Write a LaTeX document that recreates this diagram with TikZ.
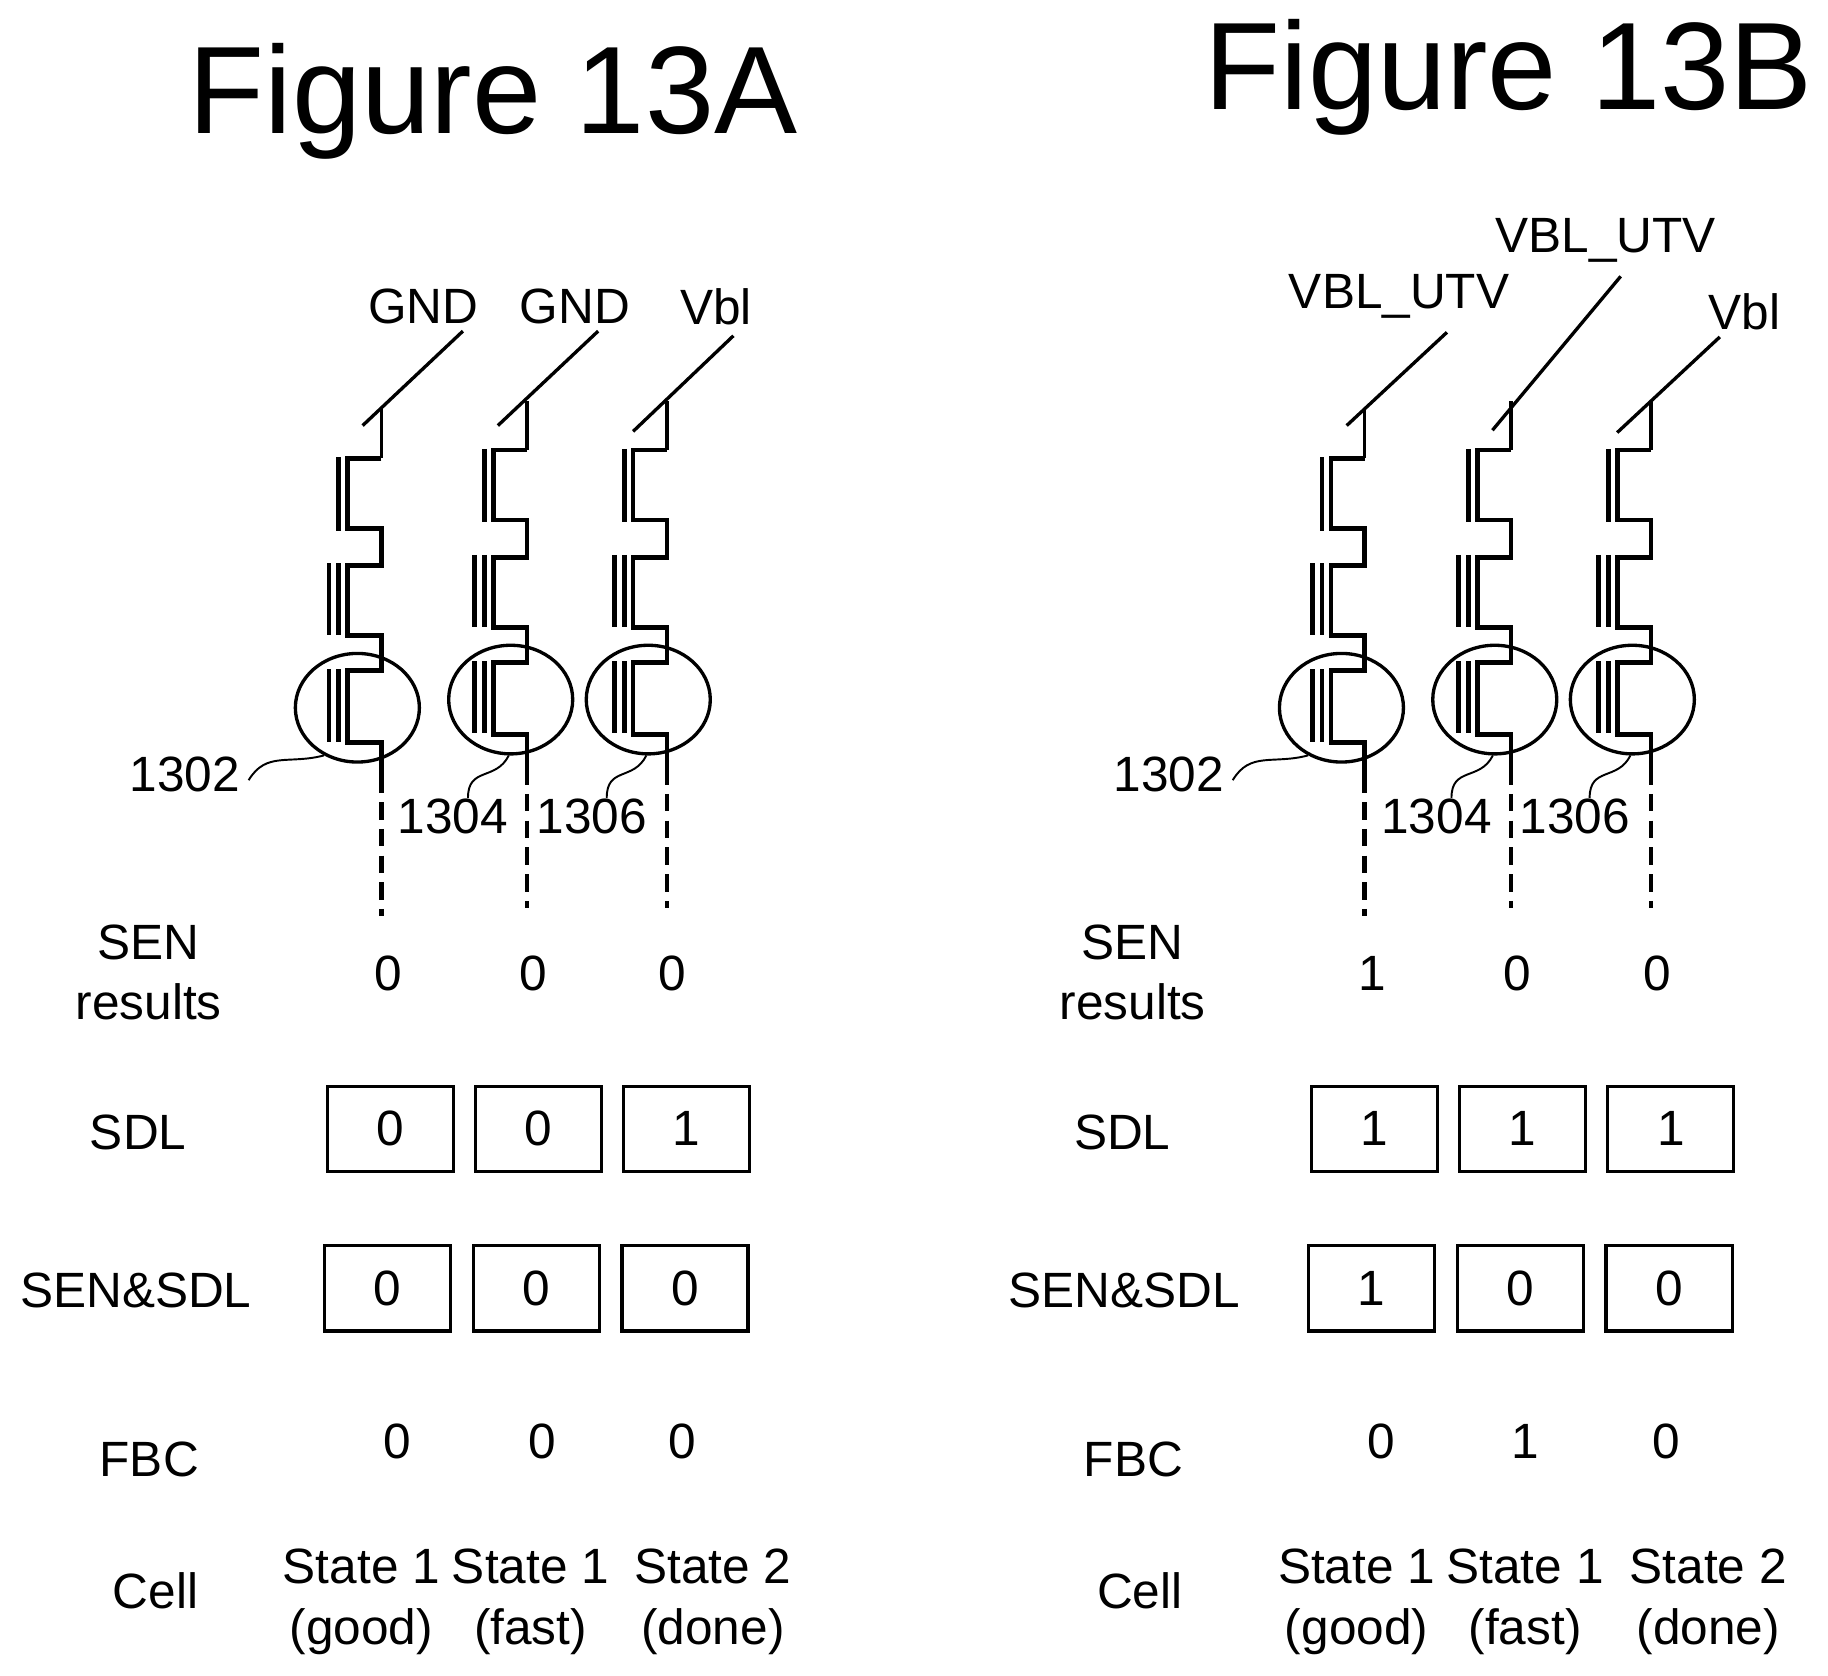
\documentclass[tikz,border=0pt]{standalone}
\usepackage{fontspec}
\setmainfont{Liberation Sans}
\usetikzlibrary{calc,shapes.geometric}
\tikzset{
  label14/.style={inner sep=0pt,align=center,font=\fontsize{14.1}{17.3}\selectfont},
  title35/.style={inner sep=0pt,font=\fontsize{35.4}{40}\selectfont},
  bitbox/.style={draw,line width=0.9pt,inner sep=0pt,minimum width=1.26cm,minimum height=0.851cm,font=\fontsize{14.1}{17.3}\selectfont},
  cellring/.style={draw,ellipse,line width=0.95pt,inner sep=0pt,minimum width=1.24cm,minimum height=1.086cm},
  wire/.style={line width=1.35pt,line join=miter},
  stub/.style={line width=0.95pt},
  gateline/.style={line width=1.3pt},
  leader/.style={line width=0.55pt}
}
\newcommand{\tikzBitBox}[3]{
  \node[bitbox] (#1) at (#2) {#3};
}
% name, bitline x, y of first bend, stub top y, slant start, slant end, ring x
\newcommand{\tikzCellString}[7]{
  \coordinate (#1top) at (#2,#4);
  \coordinate (#1end) at (#2,#3+272);
  \coordinate (#1bot) at (#2,#3+393);
  \draw[stub] (#6) -- (#5);
  \draw[stub] (#1top) -- (#2,#3);
  \draw[wire] (#2,#3) -- ++(-29,0) -- ++(0,60) -- ++(29,0) -- ++(0,32) -- ++(-29,0) -- ++(0,60)
    -- ++(29,0) -- ++(0,30) -- ++(-29,0) -- ++(0,62) -- ++(29,0) -- (#1end);
  \draw[wire,dash pattern=on 5pt off 2.6pt] (#1end) -- (#1bot);
  % gates
  \draw[gateline] (#2-36.5,#3-1) -- ++(0,63);
  \draw[gateline] (#2-36.5,#3+90) -- ++(0,62);
  \draw[gateline] (#2-45,#3+90) -- ++(0,62);
  \draw[gateline] (#2-36.5,#3+181) -- ++(0,62);
  \draw[gateline] (#2-45,#3+181) -- ++(0,62);
  \node[cellring] (#1ring) at (#7,#3+214) {};
}
\newcommand{\tikzLeaderLow}[2]{
  \draw[leader] ([yshift=-0.06cm]#1.east) .. controls +(15,-25) and +(-30,8) .. (#2.235);
}
\newcommand{\tikzLeaderUp}[2]{
  \draw[leader] ([xshift=0.15cm]#1.north) .. controls +(0,-27) and +(-11,22) .. (#2.268);
}

\begin{document}
\begin{tikzpicture}[x=0.01166cm,y=-0.01166cm]
  \useasboundingbox (0,0) rectangle (1567.8,1436.6);

  \node[title35] (titleA) at (423,87) {Figure 13A};
  \node[title35] (titleB) at (1294,66) {Figure 13B};

  %figure A, bit line strings
  \coordinate (aslantA) at (311,365);  \coordinate (aslantAt) at (397,284);
  \coordinate (aslantB) at (427,365);  \coordinate (aslantBt) at (513,284);
  \coordinate (aslantC) at (543,370);  \coordinate (aslantCt) at (629,288);
  \tikzCellString{sa}{327}{393}{351}{aslantA}{aslantAt}{306.5}
  \tikzCellString{sb}{452}{386}{344}{aslantB}{aslantBt}{438}
  \tikzCellString{sc}{572}{386}{344}{aslantC}{aslantCt}{556}
  \node[label14] (agndA) at (363,263) {GND};
  \node[label14] (agndB) at (493,263) {GND};
  \node[label14] (avbl) at (614,263) {Vbl};
  \node[label14,inner xsep=0.08cm] (alabA) at (158.5,664) {1302};
  \node[label14] (alabB) at (388.5,700) {1304};
  \node[label14] (alabC) at (507.5,700) {1306};
  \tikzLeaderLow{alabA}{saring}
  \tikzLeaderUp{alabB}{sbring}
  \tikzLeaderUp{alabC}{scring}

  %figure A, table
  \node[label14] (asen) at (127.5,834) {SEN\\results};
  \node[label14] (asenA) at (333,835) {0};
  \node[label14] (asenB) at (457,835) {0};
  \node[label14] (asenC) at (577,835) {0};
  \node[label14] (asdl) at (118.5,971) {SDL};
  \tikzBitBox{asdlA}{335,968}{0}
  \tikzBitBox{asdlB}{462,968}{0}
  \tikzBitBox{asdlC}{589,968}{1}
  \node[label14] (aand) at (116.5,1107) {SEN\&SDL};
  \tikzBitBox{aandA}{332.5,1105}{0}
  \tikzBitBox{aandB}{460,1105}{0}
  \tikzBitBox{aandC}{587.5,1105}{0}
  \node[label14] (afbc) at (128,1252) {FBC};
  \node[label14] (afbcA) at (341,1236) {0};
  \node[label14] (afbcB) at (465,1236) {0};
  \node[label14] (afbcC) at (585,1236) {0};
  \node[label14] (acell) at (133.5,1364) {Cell};
  \node[label14] (acellA) at (310,1374) {State 1\\(good)};
  \node[label14] (acellB) at (455,1374) {State 1\\(fast)};
  \node[label14] (acellC) at (611.5,1374) {State 2\\(done)};

  %figure B, bit line strings
  \coordinate (bslantA) at (1155,365);  \coordinate (bslantAt) at (1241,285);
  \coordinate (bslantB) at (1280,369);  \coordinate (bslantBt) at (1390,237);
  \coordinate (bslantC) at (1387,371);  \coordinate (bslantCt) at (1475,289);
  \tikzCellString{ta}{1170.5}{393}{351}{bslantA}{bslantAt}{1150.5}
  \tikzCellString{tb}{1296}{386}{344}{bslantB}{bslantBt}{1282}
  \tikzCellString{tc}{1416}{386}{344}{bslantC}{bslantCt}{1400}
  \node[label14] (butvA) at (1200,254) {VBL\_UTV};
  \node[label14] (butvB) at (1377,206) {VBL\_UTV};
  \node[label14] (bvbl) at (1496,267) {Vbl};
  \node[label14,inner xsep=0.08cm] (blabA) at (1002.5,664) {1302};
  \node[label14] (blabB) at (1232,700) {1304};
  \node[label14] (blabC) at (1350.5,700) {1306};
  \tikzLeaderLow{blabA}{taring}
  \tikzLeaderUp{blabB}{tbring}
  \tikzLeaderUp{blabC}{tcring}

  %figure B, table
  \node[label14] (bsen) at (971.5,834) {SEN\\results};
  \node[label14] (bsenA) at (1177,835) {1};
  \node[label14] (bsenB) at (1301,835) {0};
  \node[label14] (bsenC) at (1421,835) {0};
  \node[label14] (bsdl) at (962.5,971) {SDL};
  \tikzBitBox{bsdlA}{1179,968}{1}
  \tikzBitBox{bsdlB}{1306,968}{1}
  \tikzBitBox{bsdlC}{1433,968}{1}
  \node[label14] (band) at (964,1107) {SEN\&SDL};
  \tikzBitBox{bandA}{1176.5,1105}{1}
  \tikzBitBox{bandB}{1304,1105}{0}
  \tikzBitBox{bandC}{1431.5,1105}{0}
  \node[label14] (bfbc) at (972,1252) {FBC};
  \node[label14] (bfbcA) at (1185,1236) {0};
  \node[label14] (bfbcB) at (1308.5,1236) {1};
  \node[label14] (bfbcC) at (1429,1236) {0};
  \node[label14] (bcell) at (977.5,1364) {Cell};
  \node[label14] (bcellA) at (1163.5,1374) {State 1\\(good)};
  \node[label14] (bcellB) at (1308,1374) {State 1\\(fast)};
  \node[label14] (bcellC) at (1465,1374) {State 2\\(done)};
\end{tikzpicture}
\end{document}
